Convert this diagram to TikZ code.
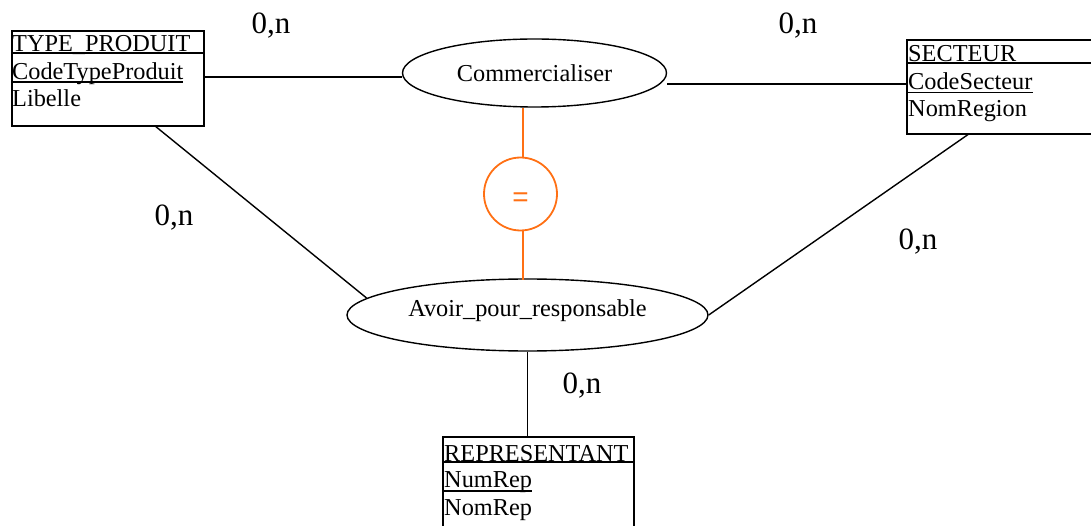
\documentclass[tikz,border=0pt]{standalone}
\usepackage{fontspec}
\setmainfont{Liberation Serif}
\newfontfamily\eqfont{Liberation Sans}
\usetikzlibrary{shapes.geometric}
\definecolor{constraint}{RGB}{255,112,20}
\begin{document}
\begin{tikzpicture}[x=1pt,y=-1pt,
  box/.style={draw,line width=1.6pt,anchor=north west,inner sep=0pt},
  attr/.style={anchor=base west,inner sep=0pt,font=\fontsize{24.3}{28}\selectfont},
  assoc/.style={draw,line width=1.4pt,ellipse,inner sep=0pt,font=\fontsize{24.3}{28}\selectfont},
  link/.style={line width=1.4pt},
  uline/.style={line width=1.2pt},
  card/.style={inner sep=0pt,font=\fontsize{31}{35}\selectfont},
  cstr/.style={draw=constraint,line width=1.8pt,circle,inner sep=0pt,minimum size=73pt},
  cstrsign/.style={inner sep=0pt,text=constraint,font=\eqfont\fontsize{28}{32}\selectfont},
  cstrlink/.style={draw=constraint,line width=1.8pt}]
\useasboundingbox (0,0) rectangle (1091,526);

% entity TYPE_PRODUIT
\node[box,minimum width=192pt,minimum height=95pt] (tp) at (11,30) {};
\draw[line width=1.4pt] (11,53) -- (203,53);
\node[attr] (tpT) at (12,52) {TYPE\_PRODUIT};
\node[attr] (tp1) at (12,79.5) {CodeTypeProduit};
\draw[uline] ([yshift=-2.5pt]tp1.base west) -- ([yshift=-2.5pt]tp1.base east);
\node[attr] (tp2) at (12,107) {Libelle};

% entity SECTEUR (right side runs off the page)
\draw[line width=1.6pt] (1095,40) -- (907,40) -- (907,134) -- (1095,134);
\node[inner sep=0pt,minimum width=188pt,minimum height=94pt,anchor=north west] (secb) at (907,40) {};
\draw[line width=1.4pt] (907,63) -- (1095,63);
\node[attr] (secT) at (908,62) {SECTEUR};
\node[attr] (sec1) at (908,90) {CodeSecteur};
\draw[uline] ([yshift=-2.5pt]sec1.base west) -- ([yshift=-2.5pt]sec1.base east);
\node[attr] (sec2) at (908,117) {NomRegion};

% entity REPRESENTANT (bottom runs off the page)
\draw[line width=1.6pt] (443,530) -- (443,437) -- (634,437) -- (634,530);
\node[inner sep=0pt,minimum width=191pt,minimum height=93pt,anchor=north west] (rep) at (443,437) {};
\draw[line width=1.4pt] (443,462) -- (634,462);
\node[attr] (repT) at (444,461) {REPRESENTANT};
\node[attr] (rep1) at (444,487) {NumRep};
\draw[uline] ([yshift=-4pt]rep1.base west) -- ([yshift=-4pt]rep1.base east);
\node[attr] (rep2) at (444,515) {NomRep};

% associations
\node[assoc,minimum width=264pt,minimum height=68pt] (com) at (534.5,73) {Commercialiser};
\node[assoc,minimum width=361pt,minimum height=72pt,text depth=14pt] (avr) at (527.5,315) {Avoir\_pour\_responsable};

% equality constraint between the two associations
\node[cstr] (eq) at (520.5,194) {};
\node[cstrsign] (eqsign) at ([yshift=-6pt]eq.center) {=};
\draw[cstrlink] (eq.north -| 523,0) -- (523,108);
\draw[cstrlink] (eq.south -| 523,0) -- (523,280);

% links
\draw[link] (tp.east |- 0,77) -- (com.west |- 0,77);
\draw[link] (com.east |- 0,84) -- (secb.west |- 0,84);
\draw[link] ([xshift=48pt]tp.south) -- (avr.174);
\draw[link] (avr.east) -- ([xshift=-33pt]secb.south);
\draw[link] (avr.south) -- (avr.south |- rep.north);

% cardinalities
\node[card] (c1) at (271,26) {0,n};
\node[card] (c2) at (798,26) {0,n};
\node[card] (c3) at (174,218) {0,n};
\node[card] (c4) at (918,242) {0,n};
\node[card] (c5) at (582,386) {0,n};
\end{tikzpicture}
\end{document}
